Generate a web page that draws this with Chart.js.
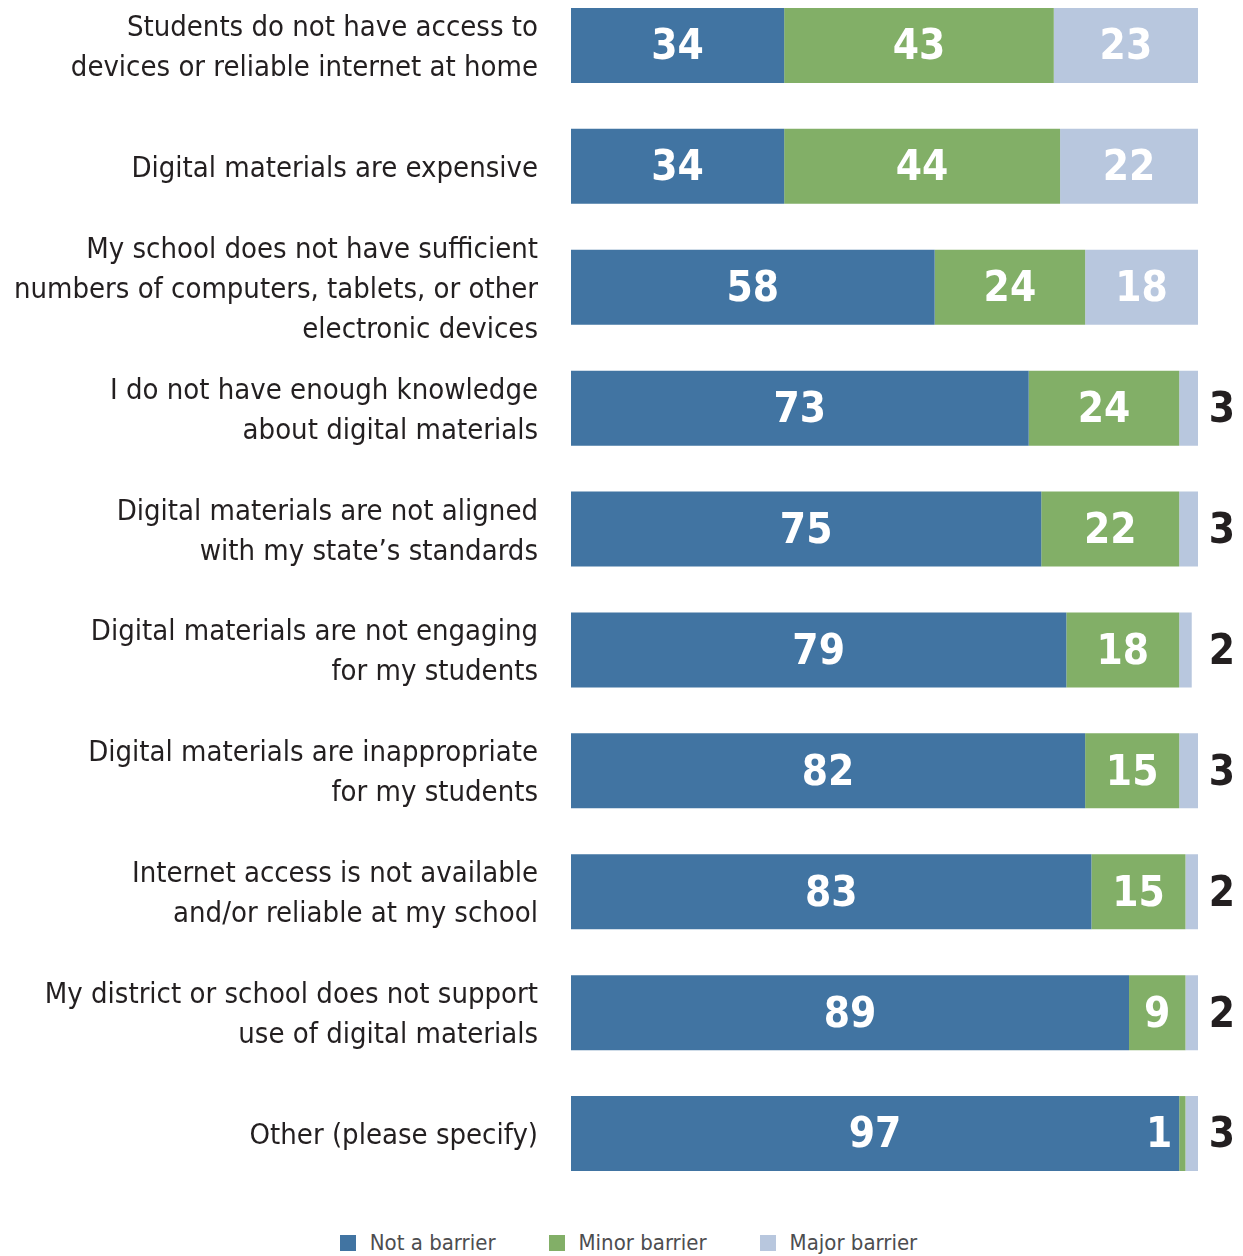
<!DOCTYPE html>
<html>
<head>
<meta charset="utf-8">
<script src="https://cdn.jsdelivr.net/npm/chart.js@4/dist/chart.umd.min.js"></script>
<style>
  html, body { margin: 0; padding: 0; background: #fff; overflow: hidden; }
  body { width: 1243px; height: 1256px; position: relative; }
  #wrap { position: absolute; left: 0; top: -15px; width: 1243px; height: 1209px; }
  #legend {
    position: absolute; left: 7px; top: 1229px; width: 1243px;
    display: flex; justify-content: center; gap: 53px;
    font-family: "Liberation Sans Narrow", "DejaVu Sans Condensed", "Roboto Condensed", sans-serif;
    font-size: 22px; color: #4d4d4f; line-height: 28px;
  }
  #legend span.item { display: flex; align-items: center; }
  #legend i { display: inline-block; width: 16px; height: 16px; margin-right: 14px; }
</style>
</head>
<body>
<div id="wrap"><canvas id="barriers"></canvas></div>
<div id="legend"></div>
<script>
(function(){
  // survey rows, top to bottom
  var categories = [
    ['Students do not have access to', 'devices or reliable internet at home'],
    'Digital materials are expensive',
    ['My school does not have sufficient', 'numbers of computers, tablets, or other', 'electronic devices'],
    ['I do not have enough knowledge', 'about digital materials'],
    ['Digital materials are not aligned', 'with my state\u2019s standards'],
    ['Digital materials are not engaging', 'for my students'],
    ['Digital materials are inappropriate', 'for my students'],
    ['Internet access is not available', 'and/or reliable at my school'],
    ['My district or school does not support', 'use of digital materials'],
    'Other (please specify)'
  ];
  var notBarrier   = [34, 34, 58, 73, 75, 79, 82, 83, 89, 97];
  var minorBarrier = [43, 44, 24, 24, 22, 18, 15, 15, 9, 1];
  var majorBarrier = [23, 22, 18, 3, 3, 2, 3, 2, 2, 3];
  var seriesNames  = ['Not a barrier', 'Minor barrier', 'Major barrier'];

  var colors = ['#4174a2', '#82af67', '#b8c7de'];
  var narrow = '"Liberation Sans Narrow", "DejaVu Sans Condensed", "Roboto Condensed", sans-serif';
  var ink = '#231f20';

  // numbers on the bars; small major-barrier values go outside on the right
  var valueLabels = {
    id: 'valueLabels',
    afterDatasetsDraw: function(chart){
      var ctx = chart.ctx, area = chart.chartArea;
      ctx.save();
      ctx.font = 'bold 42px ' + narrow;
      ctx.textBaseline = 'middle';
      chart.data.datasets.forEach(function(ds, di){
        var meta = chart.getDatasetMeta(di);
        meta.data.forEach(function(bar, i){
          var v = ds.data[i];
          var y = bar.y + 3;
          if (di === 2 && v <= 5) {
            ctx.fillStyle = ink; ctx.textAlign = 'center';
            ctx.fillText(v, area.right + 24, y);
          } else if (v < 5) {
            ctx.fillStyle = '#fff'; ctx.textAlign = 'right';
            ctx.fillText(v, bar.base - 7, y);
          } else {
            ctx.fillStyle = '#fff'; ctx.textAlign = 'center';
            ctx.fillText(v, (bar.base + bar.x) / 2, y);
          }
        });
      });
      ctx.restore();
    }
  };

  var values = [notBarrier, minorBarrier, majorBarrier];
  var datasets = values.map(function(d, k){
    return { label: seriesNames[k], data: d, backgroundColor: colors[k], borderWidth: 0,
             barPercentage: 1, categoryPercentage: 0.62 };
  });

  new Chart(document.getElementById('barriers'), {
    type: 'bar',
    data: { labels: categories, datasets: datasets },
    plugins: [valueLabels],
    options: {
      indexAxis: 'y',
      responsive: true,
      maintainAspectRatio: false,
      animation: false,
      layout: { padding: { left: 0, right: 45, top: 0, bottom: 0 } },
      plugins: { legend: { display: false }, tooltip: { enabled: false } },
      scales: {
        x: { stacked: true, min: 0, max: 100, display: false },
        y: {
          stacked: true,
          grid: { display: false, drawTicks: false },
          border: { display: false },
          ticks: { color: ink, padding: 33, autoSkip: false, labelOffset: 3,
                   font: { family: narrow, size: 29, lineHeight: 1.38 } },
          afterFit: function(scale){
            scale.width = 571;
            // let the multi-line labels overhang instead of shrinking the plot
            scale.paddingTop = 0;
            scale.paddingBottom = 0;
          }
        }
      }
    }
  });

  var legend = document.getElementById('legend');
  seriesNames.forEach(function(name, k){
    var item = document.createElement('span');
    item.className = 'item';
    item.innerHTML = '<i style="background:' + colors[k] + '"></i>' + name;
    legend.appendChild(item);
  });
})();
</script>
</body>
</html>
